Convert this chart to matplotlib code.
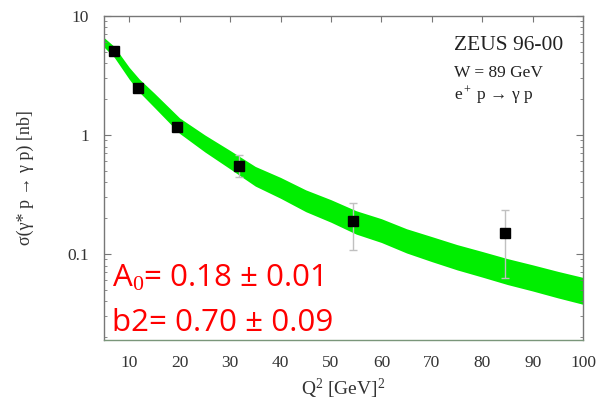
import numpy as np
import matplotlib
matplotlib.use("Agg")
import matplotlib.pyplot as plt
from matplotlib.ticker import FixedLocator, NullFormatter

# ----- data -----
# fitted band (green), lower / upper edge
band_q2 = [5, 7, 10, 12, 15, 20, 25, 30, 35, 40, 45, 50, 55, 60, 65, 70, 75, 80, 85, 90, 95, 100]
band_lo = [5.47, 4.51, 2.94, 2.29, 1.70, 1.03, 0.72, 0.519, 0.372, 0.294, 0.227, 0.185, 0.147,
           0.125, 0.102, 0.0863, 0.0736, 0.064, 0.0554, 0.0489, 0.0428, 0.0378]
band_hi = [6.58, 5.55, 3.70, 2.95, 2.24, 1.39, 1.00, 0.741, 0.544, 0.440, 0.346, 0.286, 0.231,
           0.198, 0.163, 0.140, 0.120, 0.105, 0.0915, 0.0811, 0.0715, 0.0636]

# ZEUS data points
q2 = [7, 11.8, 19.4, 31.8, 54.4, 84.5]
sigma = [5.08, 2.48, 1.17, 0.55, 0.189, 0.150]
err_lo = [0.3, 0.15, 0.08, 0.11, 0.081, 0.087]
err_hi = [0.3, 0.15, 0.08, 0.13, 0.079, 0.084]

xticks = [10, 20, 30, 40, 50, 60, 70, 80, 90, 100]
yticks = [0.1, 1, 10]
ytick_labels = ["0.1", "1", "10"]

serif = ["Liberation Serif", "DejaVu Serif"]
plt.rcParams["mathtext.fontset"] = "custom"
plt.rcParams["mathtext.rm"] = "Liberation Serif"
plt.rcParams["mathtext.it"] = "Liberation Serif:italic"

fig = plt.figure(figsize=(6.03, 4.09), dpi=100)
ax = fig.add_axes([0.1725, 0.169, 0.7945, 0.792])

ax.fill_between(band_q2, band_lo, band_hi, color="#00ee00", linewidth=0, zorder=1)
ax.errorbar(q2, sigma, yerr=[err_lo, err_hi], fmt="none", ecolor="#c0c0c0",
            elinewidth=1.0, capsize=3, capthick=1.0, zorder=2)
ax.plot(q2, sigma, "s", color="black", markersize=7, zorder=3)

ax.set_yscale("log")
ax.set_xlim(5, 100)
ax.set_ylim(0.019, 10)

ax.xaxis.set_major_locator(FixedLocator(xticks))
ax.set_xticklabels([str(t) for t in xticks], fontfamily=serif, fontsize=12.5, color="#333333")
ax.yaxis.set_major_locator(FixedLocator(yticks))
ax.set_yticklabels(ytick_labels, fontfamily=serif, fontsize=12.5, color="#333333")
ax.yaxis.set_minor_formatter(NullFormatter())

ax.tick_params(axis="x", which="both", direction="in", top=True, bottom=False,
               length=4, width=0.8, color="#777777", pad=11)
ax.tick_params(axis="y", which="major", direction="in", left=True, right=True,
               length=5, width=0.8, color="#777777", pad=11)
ax.tick_params(axis="y", which="minor", direction="in", left=True, right=True,
               length=2.5, width=0.6, color="#777777")

for side in ["left", "top", "right"]:
    ax.spines[side].set_color("#777777")
    ax.spines[side].set_linewidth(1.0)
ax.spines["bottom"].set_color("#7a967a")
ax.spines["bottom"].set_linewidth(1.0)

ax.set_xlabel("Q$^2$ [GeV]$^2$", fontfamily=serif, fontsize=14, color="#333333", labelpad=4)
ax.set_ylabel("σ(γ* p → γ p) [nb]", fontfamily=serif, fontsize=13, color="#333333",
              labelpad=24)

# legend-like labels, upper right
ax.text(0.73, 0.895, "ZEUS 96-00", transform=ax.transAxes, fontfamily=serif,
        fontsize=15.5, color="#222222")
ax.text(0.73, 0.812, "W = 89 GeV", transform=ax.transAxes, fontfamily=serif,
        fontsize=12.5, color="#222222")
ax.text(0.73, 0.742, "e$^+$ p → γ p", transform=ax.transAxes,
        fontfamily=serif, fontsize=12.5, color="#222222")

# fit result annotation
ax.text(0.017, 0.165, r"A$_0$= 0.18 ± 0.01", transform=ax.transAxes,
        fontfamily="Open Sans", fontsize=22.5, color="#ff0000")
ax.text(0.017, 0.028, "b2= 0.70 ± 0.09", transform=ax.transAxes,
        fontfamily="Open Sans", fontsize=22.5, color="#ff0000")

fig.savefig("out.png", dpi=100)
